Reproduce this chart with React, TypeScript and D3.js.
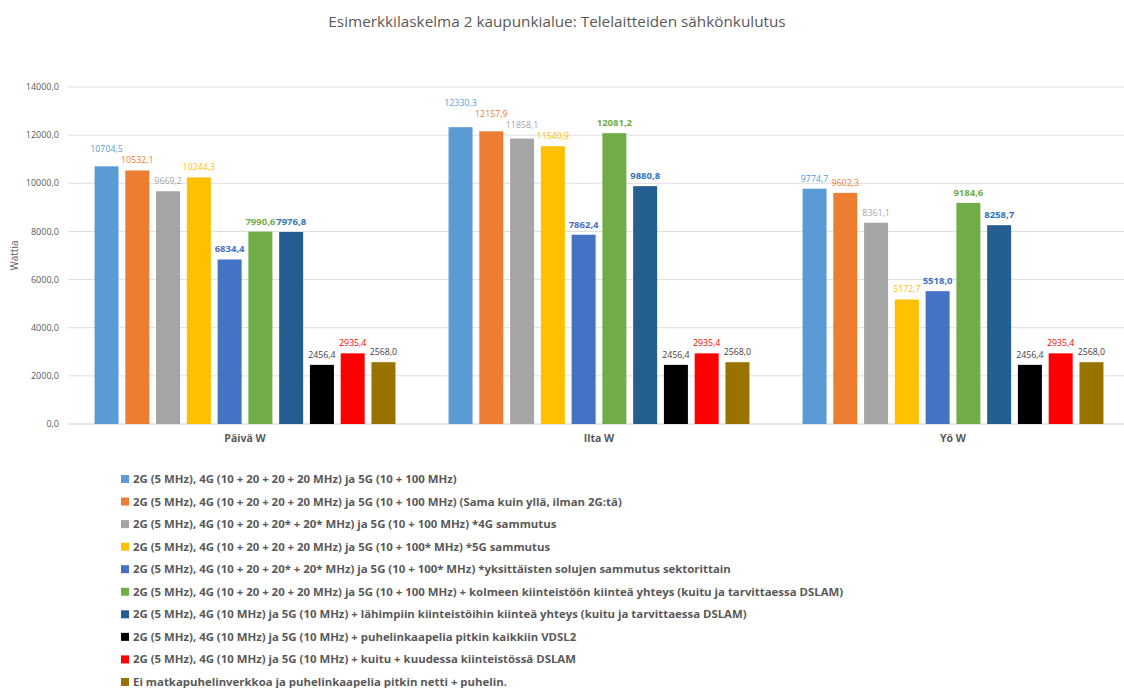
import React from 'react';
import * as d3 from 'd3';

// Time-of-day categories on the x axis
const categories = ['Päivä W', 'Ilta W', 'Yö W'];

// Scenario names (one series each)
const seriesNames = [
  '2G (5 MHz), 4G (10 + 20 + 20 + 20 MHz) ja 5G (10 + 100 MHz)',
  '2G (5 MHz), 4G (10 + 20 + 20 + 20 MHz) ja 5G (10 + 100 MHz) (Sama kuin yllä, ilman 2G:tä)',
  '2G (5 MHz), 4G (10 + 20 + 20* + 20* MHz) ja 5G (10 + 100 MHz) *4G sammutus',
  '2G (5 MHz), 4G (10 + 20 + 20 + 20 MHz) ja 5G (10 + 100* MHz) *5G sammutus',
  '2G (5 MHz), 4G (10 + 20 + 20* + 20* MHz) ja 5G (10 + 100* MHz) *yksittäisten solujen sammutus sektorittain',
  '2G (5 MHz), 4G (10 + 20 + 20 + 20 MHz) ja 5G (10 + 100 MHz) + kolmeen kiinteistöön kiinteä yhteys (kuitu ja tarvittaessa DSLAM)',
  '2G (5 MHz), 4G (10 MHz) ja 5G (10 MHz) + lähimpiin kiinteistöihin kiinteä yhteys (kuitu ja tarvittaessa DSLAM)',
  '2G (5 MHz), 4G (10 MHz) ja 5G (10 MHz) + puhelinkaapelia pitkin kaikkiin VDSL2',
  '2G (5 MHz), 4G (10 MHz) ja 5G (10 MHz) + kuitu + kuudessa kiinteistössä DSLAM',
  'Ei matkapuhelinverkkoa ja puhelinkaapelia pitkin netti + puhelin.',
];

// Power consumption in watts, per series: [Päivä, Ilta, Yö]
const s1 = [10704.5, 12330.3, 9774.7];
const s2 = [10532.1, 12157.9, 9602.3];
const s3 = [9669.2, 11858.1, 8361.1];
const s4 = [10244.3, 11540.9, 5172.7];
const s5 = [6834.4, 7862.4, 5518.0];
const s6 = [7990.6, 12081.2, 9184.6];
const s7 = [7976.8, 9880.8, 8258.7];
const s8 = [2456.4, 2456.4, 2456.4];
const s9 = [2935.4, 2935.4, 2935.4];
const s10 = [2568.0, 2568.0, 2568.0];
const seriesValues = [s1, s2, s3, s4, s5, s6, s7, s8, s9, s10];

// Y axis ticks
const yTicks = [0, 2000, 4000, 6000, 8000, 10000, 12000, 14000];

const barColors = ['#5B9BD5', '#ED7D31', '#A5A5A5', '#FFC000', '#4472C4', '#70AD47', '#255E91', '#000000', '#FF0000', '#997300'];
const labelColors = ['#5B9BD5', '#ED7D31', '#A5A5A5', '#FFC000', '#4472C4', '#70AD47', '#2E75B6', '#404040', '#FF0000', '#404040'];
const labelBold = [false, false, false, false, true, true, true, false, false, false];

const W = 1124;
const H = 688;
const FONT = "'Open Sans', 'Liberation Sans', sans-serif";
const TXT = '#595959';

const fmt = (v: number) => d3.format('.1f')(v).replace('.', ',');

export default function App() {
  const x0 = d3.scaleBand<string>().domain(categories).range([68, 1130]).paddingInner(0.15).paddingOuter(0.075);
  const x1 = d3.scaleBand<number>().domain(d3.range(seriesValues.length)).range([0, x0.bandwidth()]).paddingInner(0.22).paddingOuter(0);
  const y = d3.scaleLinear().domain([0, 14000]).range([424, 87]);

  // Data labels with a simple right-to-left overlap nudge inside each group
  const labels: { x: number; y: number; text: string; i: number }[] = [];
  categories.forEach((c, ci) => {
    const group: { x: number; y: number; w: number; text: string; i: number }[] = [];
    seriesValues.forEach((vals, si) => {
      const v = vals[ci];
      const text = fmt(v);
      const size = labelBold[si] ? 9.5 : 8.8;
      const w = text.length * size * 0.52;
      group.push({ x: (x0(c) as number) + (x1(si) as number) + x1.bandwidth() / 2, y: y(v) - 7, w, text, i: si });
    });
    for (let k = group.length - 2; k >= 0; k--) {
      const a = group[k];
      const b = group[k + 1];
      const hOverlap = Math.abs(a.x - b.x) < (a.w + b.w) / 2;
      if (hOverlap && Math.abs(a.y - b.y) < 11) a.y = Math.min(a.y, b.y - 11);
    }
    group.forEach((g) => labels.push(g));
  });

  const legendY = (i: number) => 479 + i * 22.55;

  return (
    <div style={{ position: 'absolute', left: 0, top: 0 }}>
      <svg width={W} height={H} style={{ display: 'block', background: '#fff' }} fontFamily={FONT}>
        <text x={557} y={27} textAnchor="middle" fontSize={15.3} fill={TXT}>
          Esimerkkilaskelma 2 kaupunkialue: Telelaitteiden sähkönkulutus
        </text>

        {yTicks.map((t) => (
          <g key={t}>
            <line x1={68} x2={1124} y1={y(t)} y2={y(t)} stroke={t === 0 ? '#D0D0D0' : '#DEDEDE'} strokeWidth={1} />
            <text x={59} y={y(t)} dy="0.35em" textAnchor="end" fontSize={9} fill={TXT}>
              {fmt(t)}
            </text>
          </g>
        ))}

        <text transform={`translate(18,${(y(0) + y(14000)) / 2}) rotate(-90)`} textAnchor="middle" fontSize={10} fill={TXT}>
          Wattia
        </text>

        {categories.map((c, ci) => (
          <g key={c}>
            {seriesValues.map((vals, si) => (
              <rect
                key={si}
                x={(x0(c) as number) + (x1(si) as number)}
                y={y(vals[ci])}
                width={x1.bandwidth()}
                height={y(0) - y(vals[ci])}
                fill={barColors[si]}
              />
            ))}
            <text x={(x0(c) as number) + x0.bandwidth() / 2} y={442} textAnchor="middle" fontSize={10.5} fontWeight="bold" fill={TXT}>
              {c}
            </text>
          </g>
        ))}

        {labels.map((l, k) => (
          <text
            key={k}
            x={l.x}
            y={l.y}
            textAnchor="middle"
            fontSize={labelBold[l.i] ? 9.5 : 8.8}
            fontWeight={labelBold[l.i] ? 'bold' : 'normal'}
            fill={labelColors[l.i]}
          >
            {l.text}
          </text>
        ))}

        {seriesNames.map((n, i) => (
          <g key={i}>
            <rect x={121} y={legendY(i) - 4} width={8} height={8} fill={barColors[i]} />
            <text x={133} y={legendY(i)} dy="0.35em" fontSize={11.4} fontWeight="bold" fill={TXT}>
              {n}
            </text>
          </g>
        ))}
      </svg>
    </div>
  );
}
